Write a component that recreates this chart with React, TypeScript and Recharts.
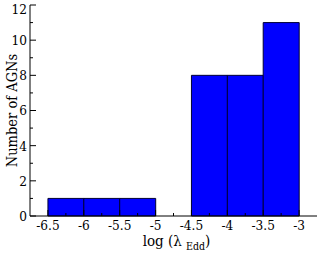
import { ComposedChart, Bar, XAxis, YAxis } from "recharts";

const binCenters = [-6.25, -5.75, -5.25, -4.75, -4.25, -3.75, -3.25];
const agnCounts = [1, 1, 1, 0, 8, 8, 11];

const xTicks = [-6.5, -6.25, -6, -5.75, -5.5, -5.25, -5, -4.75, -4.5, -4.25, -4, -3.75, -3.5, -3.25, -3];
const xTickLabels = ["-6.5", "", "-6", "", "-5.5", "", "-5", "", "-4.5", "", "-4", "", "-3.5", "", "-3"];
const yTicks = [0, 1, 2, 3, 4, 5, 6, 7, 8, 9, 10, 11, 12];
const yTickLabels = ["0", "", "2", "", "4", "", "6", "", "8", "", "10", "", "12"];

const data = binCenters.map((x, i) => ({ x, count: agnCounts[i] }));

const INK = "#000";
const FONT = "'DejaVu Serif Condensed', 'DejaVu Serif'";

function BottomTick({ x, y, index }: any) {
  const label = xTickLabels[index];
  const len = label ? 6 : 3;
  return (
    <g>
      <line x1={x} y1={y} x2={x} y2={y - len} stroke={INK} />
      {label && (
        <text x={x} y={y + 14} textAnchor="middle" fontFamily={FONT} fontStretch="condensed" fontSize={13.5} fill={INK}>
          {label}
        </text>
      )}
    </g>
  );
}

function TopTick({ x, y, index }: any) {
  const len = xTickLabels[index] ? 6 : 3;
  return <line x1={x} y1={y} x2={x} y2={y + len} stroke={INK} />;
}

function LeftTick({ x, y, index }: any) {
  const label = yTickLabels[index];
  const len = label ? 6 : 3;
  // keep the top label inside the canvas
  const ty = Math.max(y, 9.5);
  return (
    <g>
      <line x1={x} y1={y} x2={x + len} y2={y} stroke={INK} />
      {label && (
        <text x={x - 3} y={ty} dy="0.36em" textAnchor="end" fontFamily={FONT} fontStretch="condensed" fontSize={13.5} fill={INK}>
          {label}
        </text>
      )}
    </g>
  );
}

function RightTick({ x, y, index }: any) {
  const len = yTickLabels[index] ? 6 : 3;
  return <line x1={x} y1={y} x2={x - len} y2={y} stroke={INK} />;
}

function XTitle({ viewBox }: any) {
  const cx = viewBox.x + viewBox.width / 2 + 3;
  return (
    <text x={cx} y={viewBox.y + 30} textAnchor="middle" fontFamily={FONT} fontStretch="condensed" fontSize={15} fill={INK}>
      <tspan>log (λ </tspan>
      <tspan fontSize={10.5} dy={4}>Edd</tspan>
      <tspan dy={-4}>)</tspan>
    </text>
  );
}

function YTitle({ viewBox }: any) {
  const cy = viewBox.y + viewBox.height / 2;
  return (
    <text
      x={12}
      y={cy}
      transform={`rotate(-90, 12, ${cy})`}
      textAnchor="middle"
      dy="0.36em"
      fontFamily={FONT}
      fontStretch="condensed"
      fontSize={14.5}
      fill={INK}
    >
      Number of AGNs
    </text>
  );
}

export default function App() {
  return (
    <>
      <style>{"body{margin:0}"}</style>
      <ComposedChart
        width={319}
        height={253}
        data={data}
        margin={{ top: 5, right: 2, bottom: 0, left: 0 }}
        barCategoryGap={0}
        barGap={0}
      >
        <XAxis
          dataKey="x"
          type="number"
          domain={[-6.75, -2.75]}
          allowDataOverflow
          ticks={xTicks}
          interval={0}
          height={37}
          tickSize={0}
          tickMargin={0}
          tickLine={false}
          tick={<BottomTick />}
          axisLine={{ stroke: INK }}
          label={{ content: <XTitle /> }}
        />
        <XAxis
          xAxisId="top"
          orientation="top"
          type="number"
          domain={[-6.75, -2.75]}
          allowDataOverflow
          ticks={xTicks}
          interval={0}
          height={0}
          tickSize={0}
          tickMargin={0}
          tickLine={false}
          tick={<TopTick />}
          axisLine={{ stroke: INK }}
        />
        <YAxis
          type="number"
          domain={[0, 12]}
          ticks={yTicks}
          interval={0}
          width={30}
          tickSize={0}
          tickMargin={0}
          tickLine={false}
          tick={<LeftTick />}
          axisLine={{ stroke: INK }}
          label={{ content: <YTitle /> }}
        />
        <YAxis
          yAxisId="right"
          orientation="right"
          type="number"
          domain={[0, 12]}
          ticks={yTicks}
          interval={0}
          width={0}
          tickSize={0}
          tickMargin={0}
          tickLine={false}
          tick={<RightTick />}
          axisLine={{ stroke: INK }}
        />
        <Bar
          dataKey="count"
          fill="#0000ff"
          stroke="#000033"
          strokeWidth={1}
          isAnimationActive={false}
        />
      </ComposedChart>
    </>
  );
}
